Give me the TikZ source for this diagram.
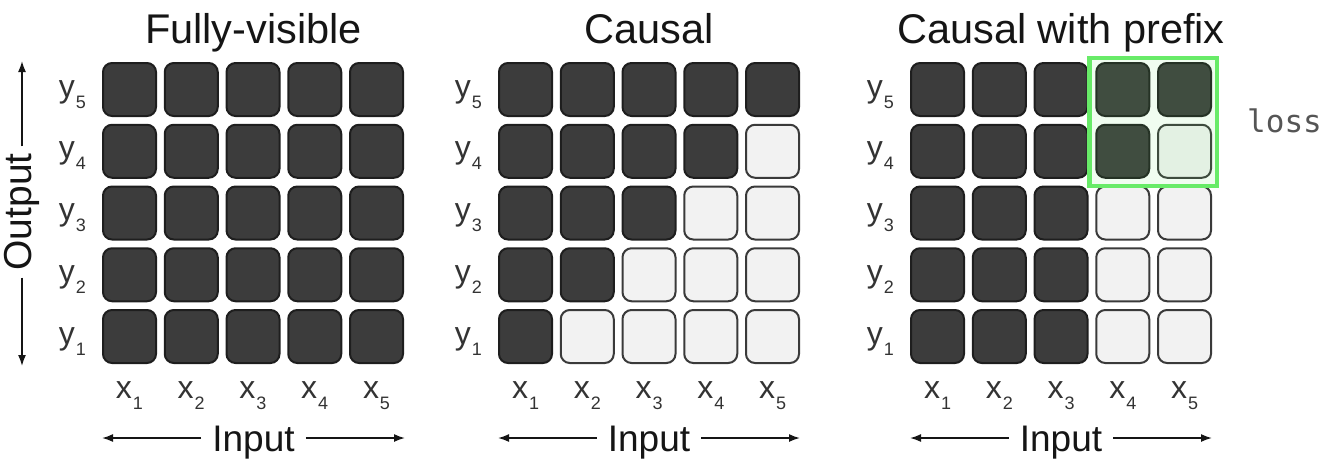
\documentclass[tikz,border=0pt]{standalone}
\usepackage{fontspec}
\setmainfont{Liberation Sans}
\newfontfamily\codefont{DejaVu Sans Mono}
\usetikzlibrary{arrows.meta}
\definecolor{cellDark}{HTML}{3C3C3C}
\definecolor{cellEdge}{HTML}{1E1E1E}
\definecolor{cellLight}{HTML}{F2F2F2}
\definecolor{lightEdge}{HTML}{3A3A3A}
\definecolor{boxGreen}{RGB}{104,235,104}
\definecolor{labelGray}{HTML}{333333}
\definecolor{titleInk}{HTML}{151515}
\definecolor{lossGray}{HTML}{555555}
\newcommand{\axlab}[2]{#1\kern1pt\raisebox{-11pt}{\fontsize{18}{18}\selectfont #2}}
\tikzset{
  darkcell/.style={rounded corners=9pt, minimum size=53pt, inner sep=0pt, line width=2pt, draw=cellEdge, fill=cellDark},
  lightcell/.style={rounded corners=9pt, minimum size=53pt, inner sep=0pt, line width=2pt, draw=lightEdge, fill=cellLight},
  titletext/.style={font=\fontsize{41.5}{46}\selectfont, text=titleInk, anchor=base, inner sep=0pt},
  axtext/.style={font=\fontsize{39}{44}\selectfont, text=titleInk, inner sep=7pt},
  intext/.style={font=\fontsize{37}{42}\selectfont, text=titleInk, inner sep=11pt, anchor=base},
  ylab/.style={font=\fontsize{32}{36}\selectfont, text=labelGray, anchor=base east, inner sep=0pt},
  xlab/.style={font=\fontsize{32}{36}\selectfont, text=labelGray, anchor=base, inner sep=0pt},
  axarrow/.style={-{Latex[length=11pt,width=8pt]}, line width=1.6pt, draw=titleInk},
  greenbox/.style={draw=boxGreen, line width=4.5pt, fill=boxGreen, fill opacity=0.1, inner sep=0pt, minimum width=127.5pt, minimum height=128pt},
  losstext/.style={text=lossGray, anchor=base west, inner sep=0pt}
}
\begin{document}
\begin{tikzpicture}[x=1pt,y=-1pt]
\useasboundingbox (0,0) rectangle (1324,459);
\def\pitch{61.75}
% ---------- Panel 1: Fully-visible ----------
\foreach \r in {1,...,5}{
  \foreach \c in {1,...,5}{
    \node[darkcell] (F-\r-\c) at ({102+27.5+(\c-1)*\pitch},{89.5+(5-\r)*\pitch}) {};
  }
}
% ---------- Panel 2: Causal ----------
\foreach \r in {1,...,5}{
  \foreach \c in {1,...,5}{
    \ifnum\c>\r
      \node[lightcell] (C-\r-\c) at ({498+27.5+(\c-1)*\pitch},{89.5+(5-\r)*\pitch}) {};
    \else
      \node[darkcell] (C-\r-\c) at ({498+27.5+(\c-1)*\pitch},{89.5+(5-\r)*\pitch}) {};
    \fi
  }
}
% ---------- Panel 3: Causal with prefix ----------
\foreach \r in {1,...,5}{
  \foreach \c in {1,...,5}{
    \ifnum\c>\r
      \ifnum\c>3
        \node[lightcell] (P-\r-\c) at ({910+27.5+(\c-1)*\pitch},{89.5+(5-\r)*\pitch}) {};
      \else
        \node[darkcell] (P-\r-\c) at ({910+27.5+(\c-1)*\pitch},{89.5+(5-\r)*\pitch}) {};
      \fi
    \else
      \node[darkcell] (P-\r-\c) at ({910+27.5+(\c-1)*\pitch},{89.5+(5-\r)*\pitch}) {};
    \fi
  }
}
% ---------- Axis labels ----------
\foreach \g/\x in {F/102,C/498,P/910}{
  \foreach \r in {1,...,5}{
    \node[ylab] (\g-y\r) at ({\x-16},{97+(5-\r)*\pitch}) {\axlab{y}{\r}};
  }
  \foreach \c in {1,...,5}{
    \node[xlab] (\g-x\c) at ({\x+27.5+(\c-1)*\pitch},398) {\axlab{x}{\c}};
  }
}
% ---------- Titles ----------
\node[titletext] (t1) at (253.5,43) {Fully-visible};
\node[titletext] (t2) at (649,43) {Causal};
\node[titletext] (t3) at (1061,43) {Causal with prefix};
% ---------- Output axis ----------
\node[axtext, rotate=90] (out) at (22,212) {Output};
\coordinate (otop) at (22,61);
\coordinate (obot) at (22,366);
\draw[axarrow] (out.east) -- (otop);
\draw[axarrow] (out.west) -- (obot);
% ---------- Input axes ----------
\foreach \n/\x/\a/\b in {1/253.5/102/405,2/649/498/800,3/1061/910/1212}{
  \node[intext] (in\n) at (\x,451) {Input};
  \coordinate (iL\n) at (\a,438);
  \coordinate (iR\n) at (\b,438);
  \draw[axarrow] (in\n.west |- iL\n) -- (iL\n);
  \draw[axarrow] (in\n.east |- iR\n) -- (iR\n);
}
% ---------- Loss box ----------
\node[greenbox] (lossbox) at (1153.25,122) {};
\node[losstext] (loss) at (1247,132) {\codefont\fontsize{31}{36}\selectfont loss};
\end{tikzpicture}
\end{document}
